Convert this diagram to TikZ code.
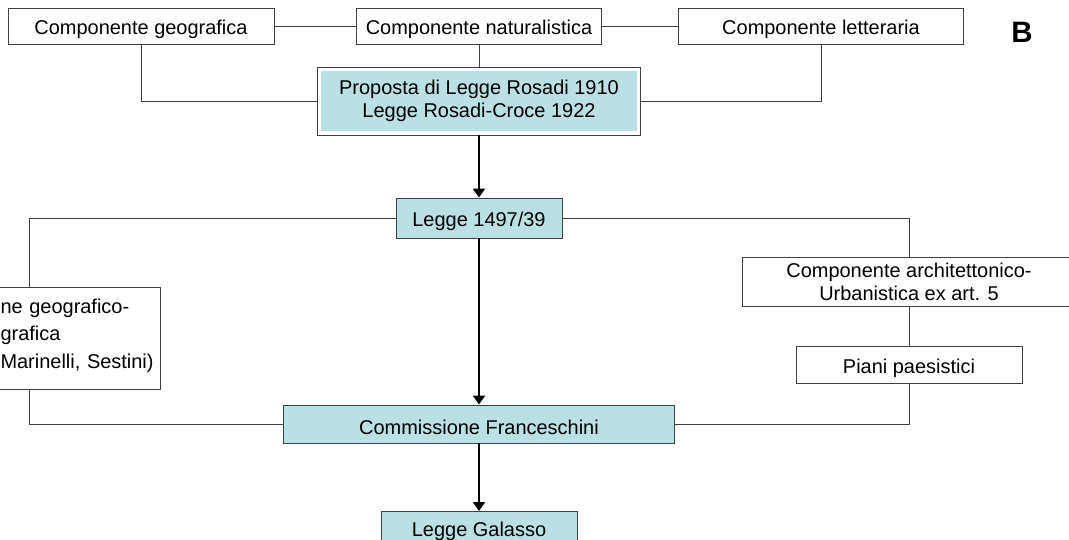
\documentclass[tikz,border=0pt]{standalone}
\usepackage{fontspec}
\setmainfont{Liberation Sans}
\usetikzlibrary{arrows.meta}
\definecolor{lawfill}{RGB}{185,224,227}
\definecolor{boxline}{RGB}{64,64,64}
\tikzstyle{base} = [rectangle, draw=boxline, line width=0.7pt, minimum height=0.9cm, align=center, inner sep=0.08cm, font=\fontsize{14.2}{16.5}\selectfont, execute at begin node=\rule{0pt}{1.08em}]
\tikzstyle{component} = [base, fill=white]
\tikzstyle{law} = [base, fill=lawfill]
\tikzstyle{lawframed} = [base, fill=white, path picture={\fill[lawfill] ([xshift=0.09cm,yshift=-0.09cm]path picture bounding box.north west) rectangle ([xshift=-0.09cm,yshift=0.09cm]path picture bounding box.south east);}]
\tikzstyle{link} = [draw=boxline, line width=0.7pt]
\tikzstyle{arrow} = [black, line width=1.1pt, -{Triangle[width=0.3cm,length=0.22cm]}]

\begin{document}
\begin{tikzpicture}[node distance=2cm]
  \useasboundingbox (0,0) rectangle (26.725,-13.475);
  \node (nat) [component, minimum width=6.125cm] at (11.975,-0.65) {Componente naturalistica};
  \node (geo) [component, minimum width=6.65cm, left of=nat, xshift=-6.45cm] {Componente geografica};
  \node (lett) [component, minimum width=7.125cm, right of=nat, xshift=6.55cm] {Componente letteraria};
  \node (lettera) [font=\fontsize{21}{25}\selectfont\bfseries] at (25.55,-0.8) {B};
  \node (rosadi) [lawframed, minimum width=8.075cm, minimum height=1.7cm, below of=nat, yshift=0.125cm] {Proposta di Legge Rosadi 1910\\Legge Rosadi-Croce 1922};
  \node (l1497) [law, minimum width=4.15cm, minimum height=1cm, below of=rosadi, yshift=-0.925cm] {Legge 1497/39};
  \node (geomorfo) [component, anchor=east, align=left, text width=3.9cm, inner xsep=0.1cm, minimum height=2.55cm, execute at begin node={}, text depth=1.78cm, font=\fontsize{14.2}{19.5}\selectfont] at (4.025,-8.45) {ne geografico-\\grafica\\Marinelli, Sestini)};
  \node (arch) [component, minimum width=8.35cm, minimum height=1.225cm, right of=l1497, xshift=8.75cm, yshift=-1.59cm] {Componente architettonico-\\Urbanistica ex art. 5};
  \node (piani) [component, minimum width=5.65cm, minimum height=0.925cm, below of=arch, yshift=-0.075cm] {Piani paesistici};
  \node (comm) [law, minimum width=9.775cm, minimum height=0.95cm, below of=l1497, yshift=-3.15cm] {Commissione Franceschini};
  \node (galasso) [law, minimum width=4.9cm, minimum height=0.78cm, execute at begin node={}, below of=comm, yshift=-0.5875cm] {Legge Galasso};

  \draw[link] (geo) -- (nat);
  \draw[link] (nat) -- (lett);
  \draw[link] (nat) -- (rosadi);
  \draw[link] (geo) |- (rosadi);
  \draw[link] (lett) |- (rosadi);
  \draw[arrow] (rosadi) -- (l1497);
  \draw[link] (l1497) -| ([xshift=-3.3cm]geomorfo.north east);
  \draw[link] (l1497) -| (arch);
  \draw[link] (arch) -- (piani);
  \draw[link] (piani) |- (comm);
  \draw[link] ([xshift=-3.3cm]geomorfo.south east) |- (comm);
  \draw[arrow] (l1497) -- (comm);
  \draw[arrow] (comm) -- (galasso);
\end{tikzpicture}
\end{document}
